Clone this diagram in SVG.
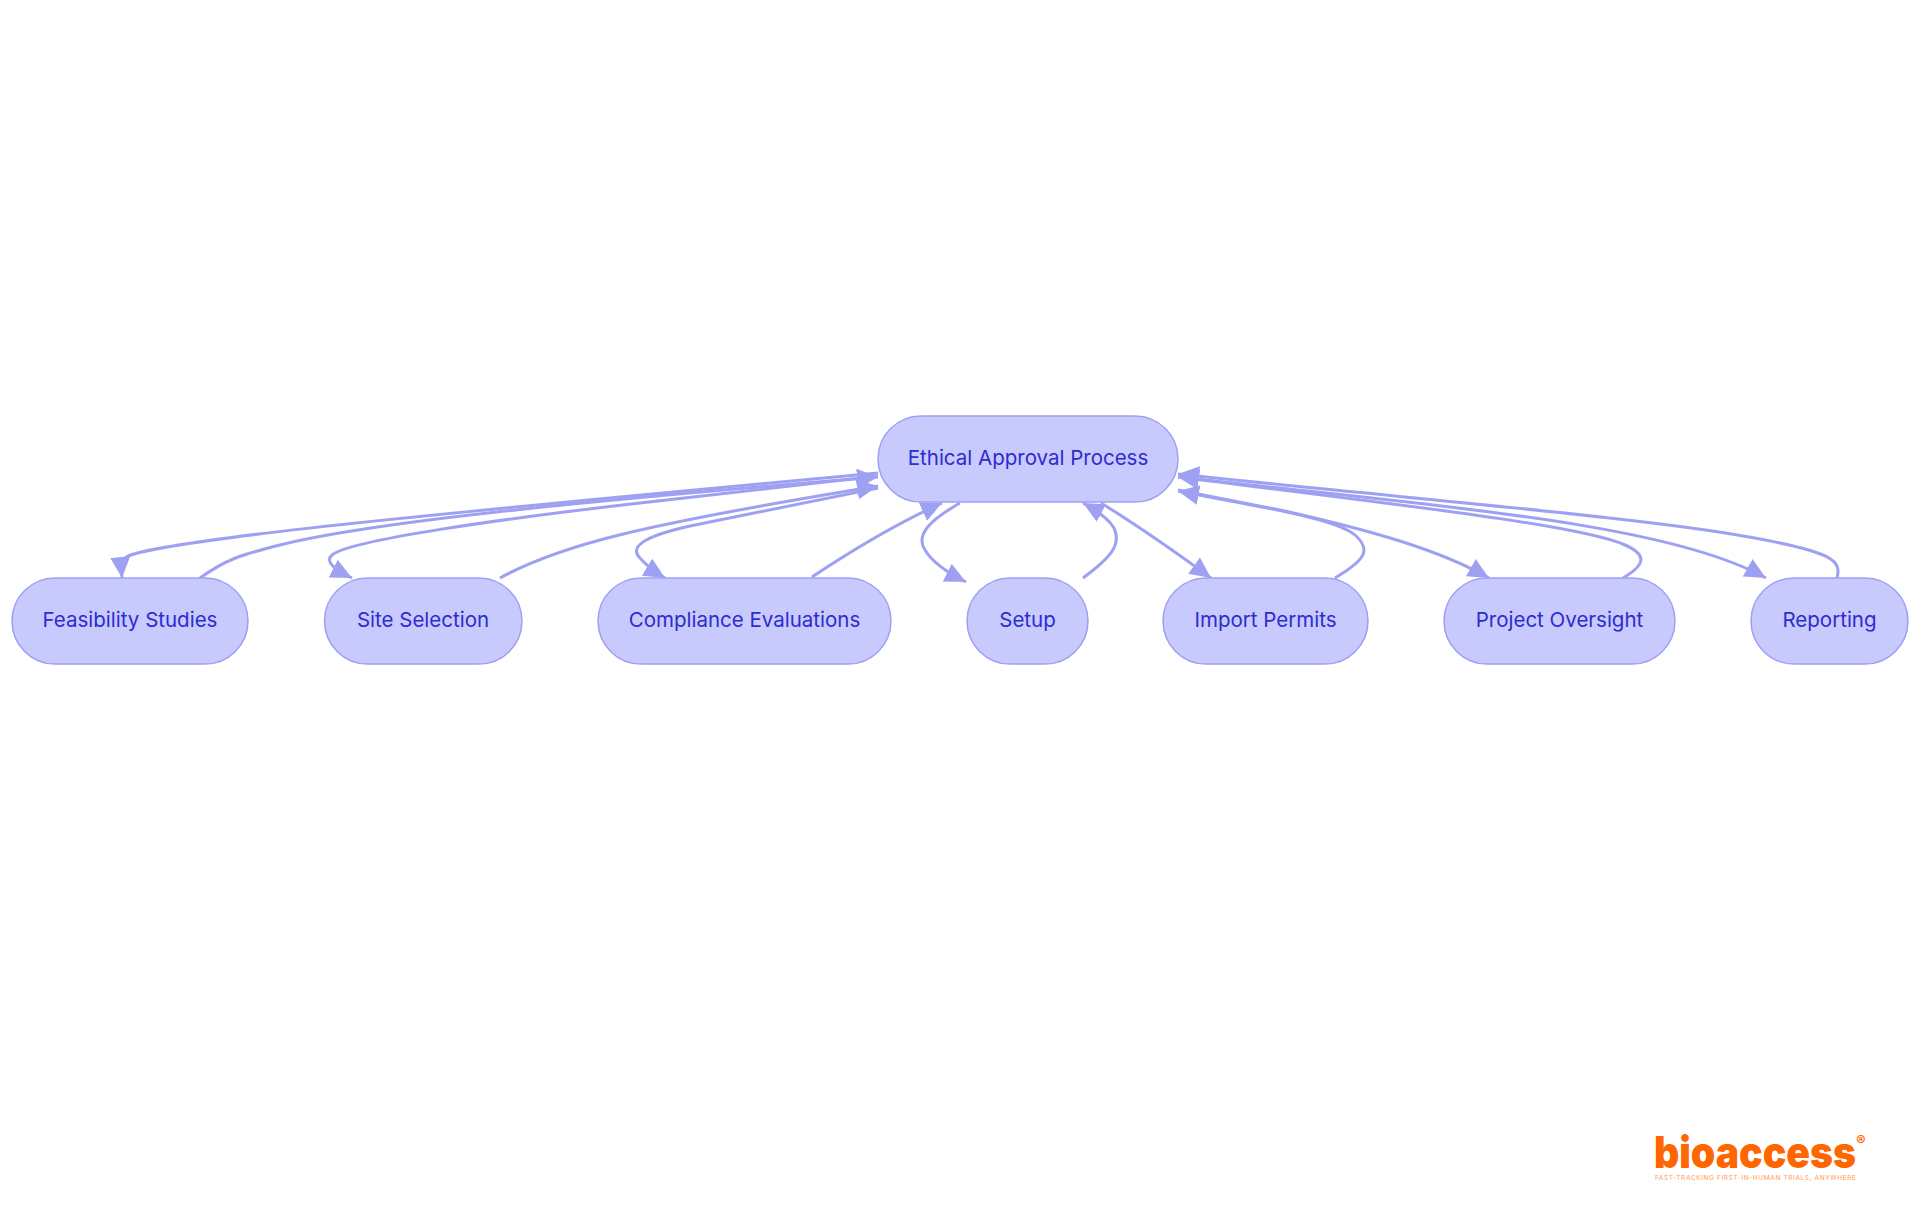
<svg xmlns="http://www.w3.org/2000/svg" width="1920" height="1215" viewBox="0 0 1920 1215">
<style>
.n{fill:#c8c9fd;stroke:#9ea1f2;stroke-width:1.5}
.t{font-family:"Inter","Liberation Sans",sans-serif;font-size:20.500px;fill:#2c2ccf;text-anchor:middle;dominant-baseline:central}
.e{fill:none;stroke:#9ea1f2;stroke-width:3;marker-end:url(#a)}
.l{font-family:Inter,"Liberation Sans",sans-serif}
</style>
<defs><marker id="a" markerUnits="userSpaceOnUse" markerWidth="24" markerHeight="24" refX="21" refY="12" orient="auto"><path d="M0,2L21,12L0,22z" fill="#9ea1f2"/></marker></defs>
<rect width="1920" height="1215" fill="#fff"/>
<g id="connectors">
<path class="e" d="M878,473L620,497C400,518 170,540 128,556C120,560 121,566 122,578"/>
<path class="e" d="M200,578C225,560 240,555 280,545C380,520 620,498 878,477"/>
<path class="e" d="M878,476L640,503C500,519 350,540 332,555C324,562 336,570 352,578"/>
<path class="e" d="M500,578C560,545 640,525 878,486"/>
<path class="e" d="M878,488L690,526C640,537 630,548 640,558C646,565 655,572 665,578"/>
<path class="e" d="M812,577C860,545 900,522 942,503"/>
<path class="e" d="M960,503C930,520 915,535 925,550C932,562 950,574 966,582"/>
<path class="e" d="M1083,578C1110,558 1122,545 1114,528C1108,518 1096,510 1083,503"/>
<path class="e" d="M1101,503C1140,527 1170,548 1211,578"/>
<path class="e" d="M1335,578C1365,560 1372,550 1355,535C1335,518 1260,507 1178,491"/>
<path class="e" d="M1178,490L1280,510C1370,530 1440,550 1489,578"/>
<path class="e" d="M1623,578C1645,565 1648,555 1625,545C1580,525 1400,505 1178,477"/>
<path class="e" d="M1178,477L1280,488C1500,512 1680,530 1766,578"/>
<path class="e" d="M1837,578C1842,560 1832,552 1749,537C1650,518 1400,498 1178,474"/>
</g>
<g id="ethical"><rect class="n" x="878" y="416" width="300" height="86" rx="43"/><text class="t" x="1028" y="457">Ethical Approval Process</text></g>
<g id="feasibility"><rect class="n" x="12" y="578" width="236" height="86" rx="43"/><text class="t" x="130" y="619">Feasibility Studies</text></g>
<g id="site"><rect class="n" x="324.500" y="578" width="197.500" height="86" rx="43"/><text class="t" x="423" y="619">Site Selection</text></g>
<g id="compliance"><rect class="n" x="598" y="578" width="293" height="86" rx="43"/><text class="t" x="744.500" y="619">Compliance Evaluations</text></g>
<g id="setup"><rect class="n" x="967" y="578" width="121" height="86" rx="43"/><text class="t" x="1027.500" y="619">Setup</text></g>
<g id="import"><rect class="n" x="1163" y="578" width="205" height="86" rx="43"/><text class="t" x="1265.500" y="619">Import Permits</text></g>
<g id="oversight"><rect class="n" x="1444" y="578" width="231" height="86" rx="43"/><text class="t" x="1559.500" y="619">Project Oversight</text></g>
<g id="reporting"><rect class="n" x="1751" y="578" width="157" height="86" rx="43"/><text class="t" x="1829.500" y="619">Reporting</text></g>
<g id="logo">
<text class="l" x="1654" y="1168" font-size="44" font-weight="900" fill="#ff6600" textLength="202" lengthAdjust="spacingAndGlyphs">bioaccess</text>
<text class="l" x="1861" y="1146" font-size="14" font-weight="700" fill="#ff6600" text-anchor="middle">®</text>
<text class="l" x="1655" y="1180" font-size="6.500" fill="#ff9a55" textLength="201">FAST-TRACKING FIRST-IN-HUMAN TRIALS, ANYWHERE</text>
</g>
</svg>
